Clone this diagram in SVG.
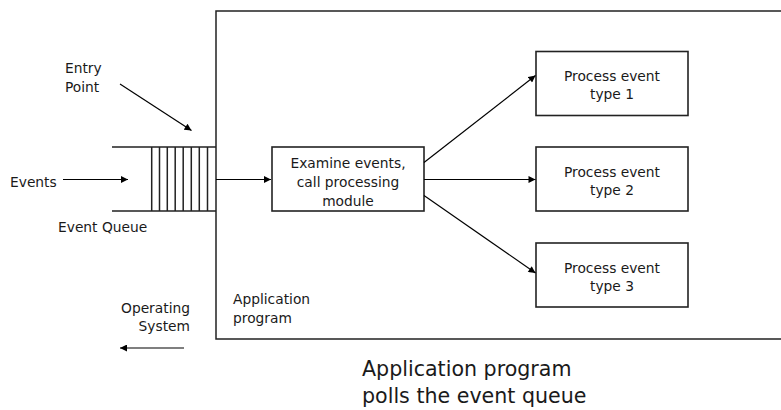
<svg xmlns="http://www.w3.org/2000/svg" width="781" height="410" viewBox="0 0 781 410">
  <style>
    text { font-family: "DejaVu Sans", "Liberation Sans", sans-serif; font-size: 13.8px; fill: #1a1a1a; }
    .big { font-size: 20.6px; }
    .mid { text-anchor: middle; }
    .end { text-anchor: end; }
    .box { fill: #fff; stroke: #222; stroke-width: 1.6; }
    .ln { fill: none; stroke: #222; stroke-width: 1.5; }
    .arr { fill: none; stroke: #000; stroke-width: 1.2; marker-end: url(#head); }
  </style>
  <defs>
    <marker id="head" viewBox="0 0 10 10" refX="10" refY="5" markerWidth="8" markerHeight="7" markerUnits="userSpaceOnUse" orient="auto">
      <path d="M0,0 L10,5 L0,10 z" fill="#000"/>
    </marker>
  </defs>
  <rect width="781" height="410" fill="#fff"/>

  <!-- application program frame (open on the right) -->
  <g id="app">
    <path class="ln" d="M790,11 H216 V339 H790"/>
    <text x="233" y="304">Application</text>
    <text x="233" y="322.5">program</text>
  </g>

  <!-- event queue -->
  <g id="queue">
    <path class="ln" d="M112,147 H216 M112,211 H216"/>
    <path class="ln" d="M151.7,147 V211 M159.5,147 V211 M167.3,147 V211 M175.2,147 V211 M183.2,147 V211 M191.3,147 V211 M199.3,147 V211 M207.5,147 V211"/>
    <text x="58" y="232">Event Queue</text>
  </g>

  <g id="events"><text x="10" y="186.5">Events</text></g>
  <g id="entry">
    <text x="65" y="73">Entry</text>
    <text x="65" y="91.5">Point</text>
  </g>
  <g id="os">
    <text class="end" x="190" y="312.5">Operating</text>
    <text class="end" x="190" y="331">System</text>
  </g>

  <g id="examine">
    <rect class="box" x="272" y="147" width="152" height="64"/>
    <text class="mid" x="348" y="167.5">Examine events,</text>
    <text class="mid" x="348" y="186.5">call processing</text>
    <text class="mid" x="348" y="205.5">module</text>
  </g>

  <g id="type1">
    <rect class="box" x="536" y="51.5" width="152" height="64"/>
    <text class="mid" x="612" y="80.7">Process event</text>
    <text class="mid" x="612" y="99.3">type 1</text>
  </g>
  <g id="type2">
    <rect class="box" x="536" y="147" width="152" height="64"/>
    <text class="mid" x="612" y="176.7">Process event</text>
    <text class="mid" x="612" y="195.3">type 2</text>
  </g>
  <g id="type3">
    <rect class="box" x="536" y="243" width="152" height="64"/>
    <text class="mid" x="612" y="272.7">Process event</text>
    <text class="mid" x="612" y="291.3">type 3</text>
  </g>

  <g id="caption">
    <text class="big" x="362" y="376">Application program</text>
    <text class="big" x="362" y="403">polls the event queue</text>
  </g>

  <!-- connectors -->
  <g id="connectors">
    <line class="arr" x1="63" y1="179.5" x2="128" y2="179.5"/>
    <line class="arr" x1="120" y1="84" x2="191.5" y2="130.5"/>
    <line class="arr" x1="216" y1="179.5" x2="271" y2="179.5"/>
    <line class="arr" x1="424" y1="162.5" x2="535.5" y2="75.5"/>
    <line class="arr" x1="424" y1="179.5" x2="535.5" y2="179.5"/>
    <line class="arr" x1="424" y1="195.5" x2="535.5" y2="273"/>
    <line class="arr" x1="184" y1="348" x2="120" y2="348"/>
  </g>
</svg>
